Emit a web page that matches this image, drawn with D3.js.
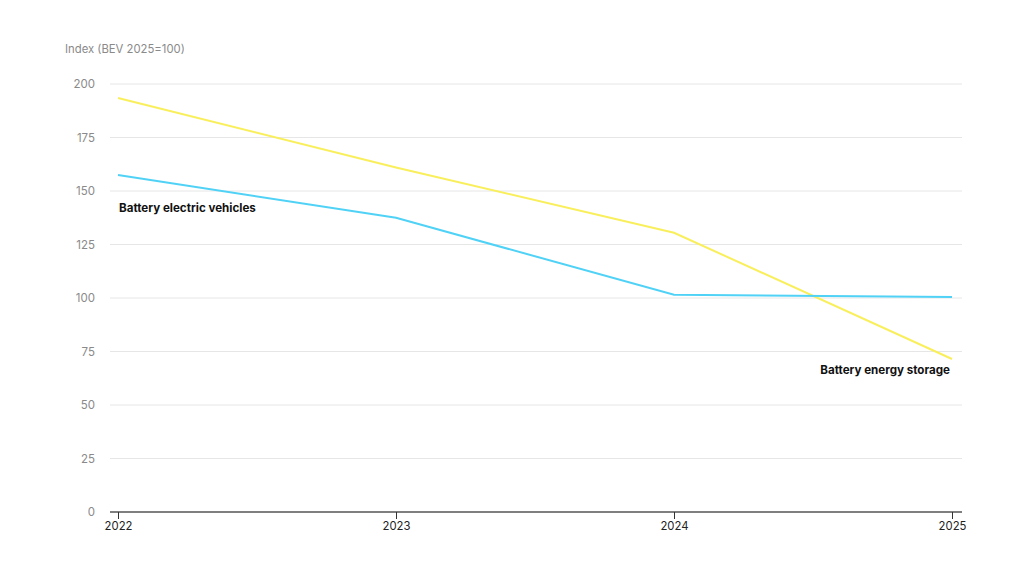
<!DOCTYPE html>
<html>
<head>
<meta charset="utf-8">
<script src="https://cdn.jsdelivr.net/npm/d3@7"></script>
<style>
  body { margin: 0; background: #fff; }
  svg { font-family: Inter, "Noto Sans", sans-serif; }
</style>
</head>
<body>
<svg id="chart" width="1024" height="570"></svg>
<script>
// data
var years = [2022, 2023, 2024, 2025];
var bevValues = [157.5, 137.5, 101.5, 100.5];
var besValues = [193.5, 161, 130.5, 71.5];
var yTicks = [0, 25, 50, 75, 100, 125, 150, 175, 200];

var svg = d3.select("#chart");

var x = d3.scaleLinear().domain([2022, 2025]).range([118, 952]);
var y = d3.scaleLinear().domain([0, 200]).range([512, 84]);

// grid
svg.append("g")
    .selectAll("line")
    .data(yTicks.filter(function(d) { return d > 0; }))
    .enter()
    .append("line")
    .attr("x1", 110).attr("x2", 962)
    .attr("y1", function(d) { return y(d); })
    .attr("y2", function(d) { return y(d); })
    .attr("stroke", "#e6e6e6")
    .attr("stroke-width", 1);

// y labels
svg.append("g")
    .selectAll("text")
    .data(yTicks)
    .enter()
    .append("text")
    .attr("x", 95)
    .attr("y", function(d) { return y(d) + 4; })
    .attr("text-anchor", "end")
    .attr("fill", "#8a8a8a")
    .attr("font-size", 11.5)
    .text(function(d) { return d; });

svg.append("text")
    .attr("x", 65).attr("y", 53)
    .attr("fill", "#8a8a8a")
    .attr("font-size", 11.3)
    .text("Index (BEV 2025=100)");

// x axis
var xAxis = svg.append("g")
    .attr("transform", "translate(0," + y(0) + ")")
    .call(d3.axisBottom(x).tickValues(years).tickFormat(d3.format("d")).tickSize(7).tickSizeOuter(0));
xAxis.select(".domain").attr("d", "M110,0H962").attr("stroke", "#555").attr("stroke-width", 1.5);
xAxis.selectAll(".tick line").attr("stroke", "#333");
xAxis.selectAll(".tick text")
    .attr("font-family", "Inter, 'Noto Sans', sans-serif")
    .attr("font-size", 11.3)
    .attr("fill", "#222")
    .attr("dy", "0.7em");

// lines
var line = d3.line()
    .x(function(d, i) { return x(years[i]); })
    .y(function(d) { return y(d); });

svg.append("path")
    .datum(besValues)
    .attr("d", line)
    .attr("fill", "none")
    .attr("stroke", "#f9ef5c")
    .attr("stroke-width", 2);

svg.append("path")
    .datum(bevValues)
    .attr("d", line)
    .attr("fill", "none")
    .attr("stroke", "#50d2f6")
    .attr("stroke-width", 2);

// labels
svg.append("text")
    .attr("x", 119).attr("y", 212)
    .attr("font-size", 11.6)
    .attr("font-weight", "bold")
    .attr("fill", "#111")
    .text("Battery electric vehicles");

svg.append("text")
    .attr("x", 950).attr("y", 374)
    .attr("text-anchor", "end")
    .attr("font-size", 11.6)
    .attr("font-weight", "bold")
    .attr("fill", "#111")
    .text("Battery energy storage");
</script>
</body>
</html>
